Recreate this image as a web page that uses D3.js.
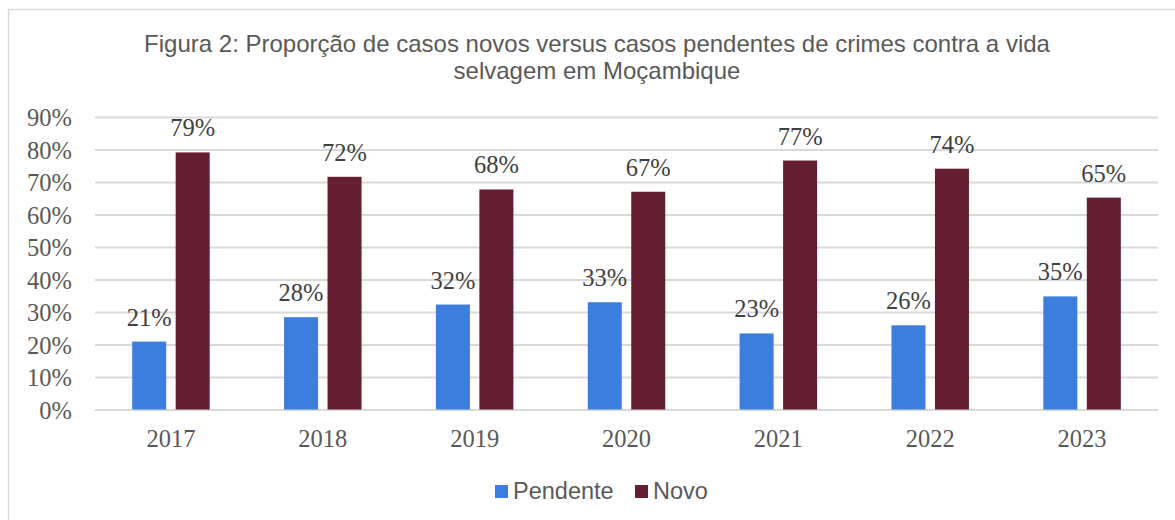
<!DOCTYPE html>
<html>
<head>
<meta charset="utf-8">
<script src="https://cdn.jsdelivr.net/npm/d3@7"></script>
<style>
  body { margin: 0; background: #fff; }
  svg { display: block; }
</style>
</head>
<body>
<div id="chart"></div>
<script>
// data
var years = ['2017', '2018', '2019', '2020', '2021', '2022', '2023'];
var pendente = [20.9, 28.4, 32.3, 33.0, 23.4, 25.9, 34.8];
var novo = [79.1, 71.6, 67.7, 67.0, 76.6, 74.1, 65.2];
var seriesNames = ['Pendente', 'Novo'];
var seriesColors = ['#3c7edd', '#641d31'];
var yTicks = [0, 10, 20, 30, 40, 50, 60, 70, 80, 90];

var width = 1175, height = 520;
var margin = { top: 117, right: 17, bottom: 110.5, left: 95 };
var serif = "'Liberation Serif', 'Times New Roman', serif";
var sans = "'Liberation Sans', Arial, sans-serif";

var svg = d3.select('#chart').append('svg')
    .attr('width', width)
    .attr('height', height);

// outer frame
svg.append('rect')
    .attr('x', 8.5).attr('y', 9.5)
    .attr('width', width + 10).attr('height', height + 10)
    .attr('fill', 'none')
    .attr('stroke', '#d9d9d9')
    .attr('stroke-width', 1.5);

// title
var title = svg.append('text')
    .attr('text-anchor', 'middle')
    .attr('font-family', sans)
    .attr('font-size', 24)
    .attr('fill', '#595959');
title.append('tspan').attr('x', 597).attr('y', 52)
    .text('Figura 2: Proporção de casos novos versus casos pendentes de crimes contra a vida');
title.append('tspan').attr('x', 597).attr('y', 79)
    .text('selvagem em Moçambique');

var x0 = d3.scaleBand()
    .domain(years)
    .range([margin.left, width - margin.right]);

var x1 = d3.scaleBand()
    .domain(seriesNames)
    .range([0, x0.bandwidth()])
    .paddingInner(0.218)
    .paddingOuter(0.855);

var y = d3.scaleLinear()
    .domain([0, 90])
    .range([height - margin.bottom, margin.top]);

// gridlines + y labels
var yAxis = d3.axisLeft(y)
    .tickValues(yTicks)
    .tickSize(-(width - margin.left - margin.right))
    .tickPadding(23)
    .tickFormat(function (d) { return d + '%'; });

var gy = svg.append('g')
    .attr('transform', 'translate(' + margin.left + ',0)')
    .call(yAxis);
gy.select('.domain').remove();
gy.selectAll('.tick line')
    .attr('stroke', '#d9d9d9')
    .attr('stroke-width', 2);
gy.selectAll('.tick text')
    .attr('font-family', serif)
    .attr('font-size', 24.5)
    .attr('fill', '#595959')
    .attr('dy', '0.35em');

var xAxis = d3.axisBottom(x0).tickSize(0).tickPadding(20);
var gx = svg.append('g')
    .attr('transform', 'translate(0,' + (height - margin.bottom) + ')')
    .call(xAxis);
gx.select('.domain').remove();
gx.selectAll('.tick text')
    .attr('font-family', serif)
    .attr('font-size', 24.5)
    .attr('fill', '#595959')
    .attr('dy', '0.72em');

var rows = years.map(function (yr, i) {
    return { year: yr, values: [pendente[i], novo[i]] };
});

var groups = svg.append('g').selectAll('g')
    .data(rows)
    .enter().append('g')
    .attr('transform', function (d) { return 'translate(' + x0(d.year) + ',0)'; });

groups.selectAll('rect')
    .data(function (d) { return d.values.map(function (v, k) { return { name: seriesNames[k], value: v, k: k }; }); })
    .enter().append('rect')
    .attr('x', function (d) { return x1(d.name); })
    .attr('width', x1.bandwidth())
    .attr('y', function (d) { return y(d.value); })
    .attr('height', function (d) { return y(0) - y(d.value); })
    .attr('fill', function (d) { return seriesColors[d.k]; });

groups.selectAll('text.lbl')
    .data(function (d) { return d.values.map(function (v, k) { return { name: seriesNames[k], value: v }; }); })
    .enter().append('text')
    .attr('class', 'lbl')
    .attr('x', function (d) { return x1(d.name) + x1.bandwidth() / 2; })
    .attr('y', function (d) { return y(d.value) - 16; })
    .attr('text-anchor', 'middle')
    .attr('font-family', serif)
    .attr('font-size', 24.5)
    .attr('fill', '#404040')
    .text(function (d) { return Math.round(d.value) + '%'; });

// legend
var legend = svg.append('g')
    .attr('font-family', sans)
    .attr('font-size', 23.5)
    .attr('fill', '#595959');
var legendX = [495, 635];
seriesNames.forEach(function (name, k) {
    legend.append('rect')
        .attr('x', legendX[k]).attr('y', 485)
        .attr('width', 13).attr('height', 13)
        .attr('fill', seriesColors[k]);
    legend.append('text')
        .attr('x', legendX[k] + 18).attr('y', 499)
        .text(name);
});
</script>
</body>
</html>
